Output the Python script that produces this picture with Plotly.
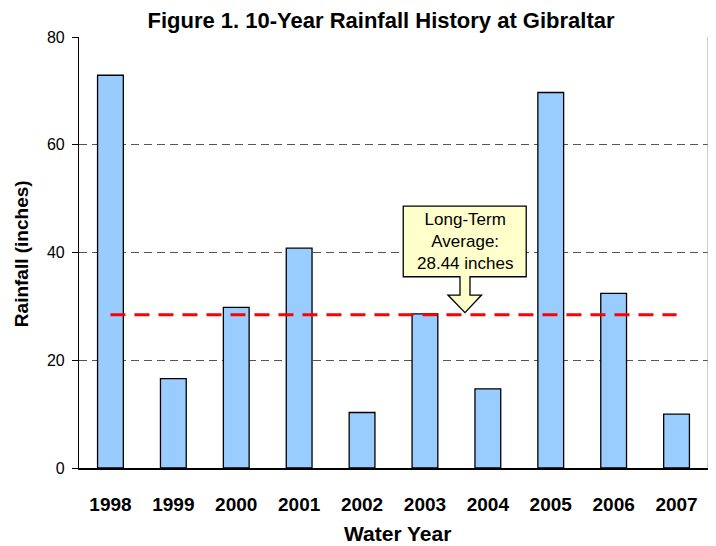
import plotly.graph_objects as go

# Water-year rainfall totals (inches)
years = ["1998", "1999", "2000", "2001", "2002", "2003", "2004", "2005", "2006", "2007"]
rainfall = [72.9, 16.6, 29.8, 40.8, 10.3, 28.6, 14.7, 69.7, 32.4, 10.0]
long_term_avg = 28.44
y_ticks = [0, 20, 40, 60, 80]

FONT = "Liberation Sans, Arial, sans-serif"
xs = list(range(len(years)))

# page body has an 8px margin, so the figure is a bit smaller than the window
W, H = 708, 538

fig = go.Figure()

# Bars
fig.add_trace(
    go.Bar(
        x=xs,
        y=rainfall,
        width=0.41,
        marker=dict(color="#99CCFF", line=dict(color="#000000", width=1.3)),
        hoverinfo="y",
        showlegend=False,
    )
)

# Long-term average - red dashed line
fig.add_trace(
    go.Scatter(
        x=[xs[0], xs[-1]],
        y=[long_term_avg, long_term_avg],
        mode="lines",
        line=dict(color="#FF0000", width=3, dash="15px,9px"),
        hoverinfo="skip",
        showlegend=False,
    )
)

# --- Callout box with down arrow pointing at the average line ---
bx0, bx1 = 4.655, 6.61          # box left / right (category units)
by0, by1 = 35.5, 48.6           # box bottom / top (inches)
sx0, sx1 = 5.557, 5.716         # arrow stem
hx0, hx1, tipx = 5.366, 5.9, 5.636
stem_bottom = 32.1
tip_y = long_term_avg + 0.4

path = (
    f"M {bx0},{by1} L {bx1},{by1} L {bx1},{by0} L {sx1},{by0} "
    f"L {sx1},{stem_bottom} L {hx1},{stem_bottom} L {tipx},{tip_y} "
    f"L {hx0},{stem_bottom} L {sx0},{stem_bottom} L {sx0},{by0} "
    f"L {bx0},{by0} Z"
)
fig.add_shape(
    type="path",
    path=path,
    xref="x",
    yref="y",
    fillcolor="#FFFFCC",
    line=dict(color="#000000", width=1.3),
    layer="above",
)
fig.add_annotation(
    x=(bx0 + bx1) / 2,
    y=(by0 + by1) / 2,
    xref="x",
    yref="y",
    text="Long-Term<br>Average:<br>28.44 inches",
    showarrow=False,
    font=dict(family=FONT, size=17, color="#000000"),
    align="center",
)

# Right border of the plot area
fig.add_shape(
    type="line",
    xref="paper",
    yref="paper",
    x0=1, x1=1, y0=0, y1=1,
    line=dict(color="#999999", width=1),
)

# Axis titles
fig.add_annotation(
    x=0.507, y=-0.152, xref="paper", yref="paper",
    text="<b>Water Year</b>", showarrow=False,
    font=dict(family=FONT, size=21, color="#000000"),
    xanchor="center", yanchor="middle",
)
fig.add_annotation(
    x=-0.092, y=0.4965, xref="paper", yref="paper",
    text="<b>Rainfall (inches)</b>", showarrow=False, textangle=-90,
    font=dict(family=FONT, size=19, color="#000000"),
    xanchor="center", yanchor="middle",
)

fig.update_layout(
    width=W,
    height=H,
    margin=dict(l=71, r=8, t=29, b=78),
    paper_bgcolor="white",
    plot_bgcolor="white",
    font=dict(family=FONT, color="#000000"),
    title=dict(
        text="<b>Figure 1. 10-Year Rainfall History at Gibraltar</b>",
        x=373 / W,
        xanchor="center",
        y=1 - 12 / H,
        yanchor="middle",
        font=dict(family=FONT, size=22, color="#000000"),
    ),
    showlegend=False,
)

fig.update_xaxes(
    range=[-0.5, len(years) - 0.5],
    tickvals=xs,
    ticktext=[f"<b>{y}</b>" for y in years],
    tickfont=dict(family=FONT, size=19, color="#000000"),
    ticks="outside",
    ticklen=18,
    tickcolor="rgba(0,0,0,0)",
    showline=True,
    linecolor="#000000",
    linewidth=1.5,
    showgrid=False,
    zeroline=False,
    fixedrange=True,
)

fig.update_yaxes(
    range=[0, 80],
    tickvals=y_ticks,
    tickfont=dict(family=FONT, size=16, color="#000000"),
    ticks="outside",
    ticklen=6,
    tickcolor="#000000",
    ticklabelstandoff=4,
    showline=True,
    linecolor="#000000",
    linewidth=1.2,
    showgrid=True,
    gridcolor="#555555",
    gridwidth=1,
    griddash="8px,5px",
    zeroline=False,
    fixedrange=True,
)

fig.write_html("out.html")
